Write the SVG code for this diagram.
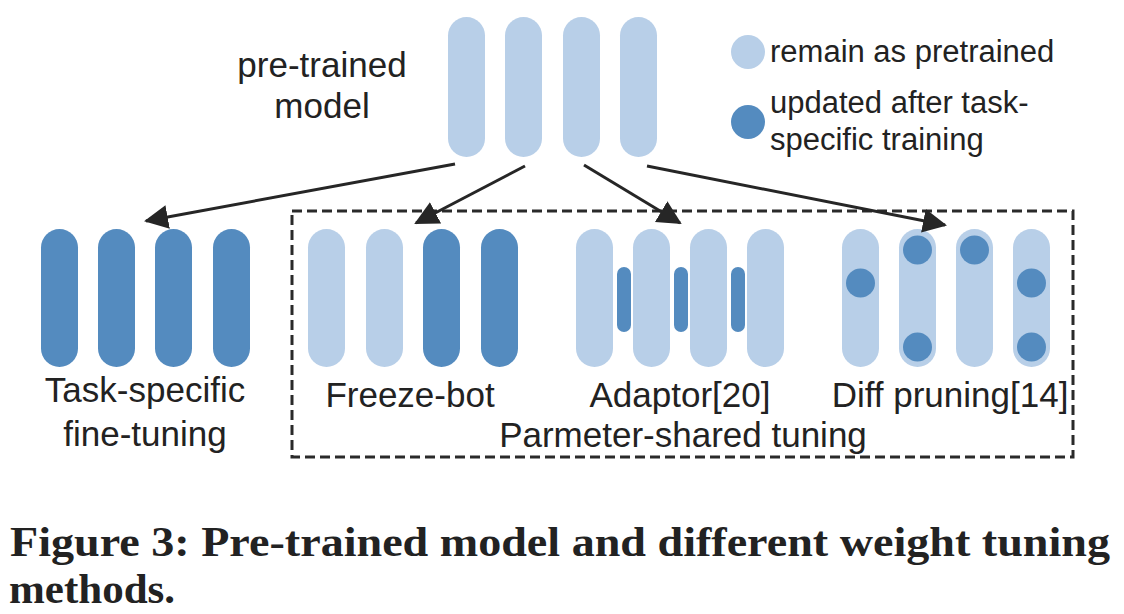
<svg xmlns="http://www.w3.org/2000/svg" width="1124" height="614" viewBox="0 0 1124 614">
<style>
.lt{fill:#b8cfe8}
.dk{fill:#548bbf}
.lbl{font-family:"Liberation Sans",Arial,sans-serif;font-size:35px;fill:#222}
.leg{font-family:"Liberation Sans",Arial,sans-serif;font-size:31px;fill:#222}
.cap{font-family:"Liberation Serif","Times New Roman",serif;font-weight:bold;font-size:43px;fill:#222}
.arr{stroke:#262626;stroke-width:3;fill:none;marker-end:url(#ah)}
</style>
<defs>
<marker id="ah" markerUnits="userSpaceOnUse" markerWidth="26" markerHeight="26" refX="22" refY="12" orient="auto">
<path d="M0,0 L24,12 L0,24 z" fill="#262626"/>
</marker>
<rect id="pill" width="37" height="138" rx="18.5"/>
</defs>
<rect width="1124" height="614" fill="#fff"/>

<g id="pretrained">
<rect class="lt" x="448" y="17" width="37" height="140" rx="18.5"/>
<rect class="lt" x="505" y="17" width="37" height="140" rx="18.5"/>
<rect class="lt" x="563" y="17" width="37" height="140" rx="18.5"/>
<rect class="lt" x="620" y="17" width="37" height="140" rx="18.5"/>
<text class="lbl" x="322" y="77" text-anchor="middle">pre-trained</text>
<text class="lbl" x="322" y="118" text-anchor="middle">model</text>
</g>

<g id="legend">
<circle class="lt" cx="748" cy="52" r="17"/>
<text class="leg" x="770" y="62">remain as pretrained</text>
<circle class="dk" cx="748" cy="122" r="17"/>
<text class="leg" x="770" y="113">updated after task-</text>
<text class="leg" x="770" y="150">specific training</text>
</g>

<g id="task-specific">
<use href="#pill" class="dk" x="41" y="229"/>
<use href="#pill" class="dk" x="98" y="229"/>
<use href="#pill" class="dk" x="155" y="229"/>
<use href="#pill" class="dk" x="213" y="229"/>
<text class="lbl" x="145" y="402" text-anchor="middle">Task-specific</text>
<text class="lbl" x="145" y="446" text-anchor="middle">fine-tuning</text>
</g>

<g id="parameter-shared">
<rect x="292" y="211" width="781" height="246" fill="none" stroke="#2a2a2a" stroke-width="3" stroke-dasharray="10,5"/>
<text class="lbl" x="683" y="447" text-anchor="middle">Parmeter-shared tuning</text>
</g>

<g id="freeze-bot">
<use href="#pill" class="lt" x="308" y="229"/>
<use href="#pill" class="lt" x="366" y="229"/>
<use href="#pill" class="dk" x="423" y="229"/>
<use href="#pill" class="dk" x="481" y="229"/>
<text class="lbl" x="410" y="407" text-anchor="middle">Freeze-bot</text>
</g>

<g id="adaptor">
<use href="#pill" class="lt" x="576" y="229"/>
<use href="#pill" class="lt" x="633" y="229"/>
<use href="#pill" class="lt" x="690" y="229"/>
<use href="#pill" class="lt" x="747" y="229"/>
<rect class="dk" x="617" y="267" width="14" height="65" rx="7"/>
<rect class="dk" x="674" y="267" width="14" height="65" rx="7"/>
<rect class="dk" x="731" y="267" width="14" height="65" rx="7"/>
<text class="lbl" x="680" y="407" text-anchor="middle">Adaptor[20]</text>
</g>

<g id="diff-pruning">
<use href="#pill" class="lt" x="842" y="229"/>
<use href="#pill" class="lt" x="899" y="229"/>
<use href="#pill" class="lt" x="956" y="229"/>
<use href="#pill" class="lt" x="1013" y="229"/>
<circle class="dk" cx="860.5" cy="283" r="14.5"/>
<circle class="dk" cx="917.5" cy="250" r="14.5"/>
<circle class="dk" cx="917.5" cy="347" r="14.5"/>
<circle class="dk" cx="974.5" cy="250" r="14.5"/>
<circle class="dk" cx="1031.5" cy="283" r="14.5"/>
<circle class="dk" cx="1031.5" cy="347" r="14.5"/>
<text class="lbl" x="950" y="407" text-anchor="middle">Diff pruning[14]</text>
</g>

<g id="connectors">
<line class="arr" x1="455" y1="164" x2="146" y2="221"/>
<line class="arr" x1="525" y1="166" x2="416" y2="223"/>
<line class="arr" x1="584" y1="165" x2="680" y2="223"/>
<line class="arr" x1="647" y1="166" x2="945" y2="225"/>
</g>

<g id="caption">
<text class="cap" x="10" y="556" textLength="1100" lengthAdjust="spacingAndGlyphs">Figure 3: Pre-trained model and different weight tuning</text>
<text class="cap" x="9" y="603">methods.</text>
</g>
</svg>
